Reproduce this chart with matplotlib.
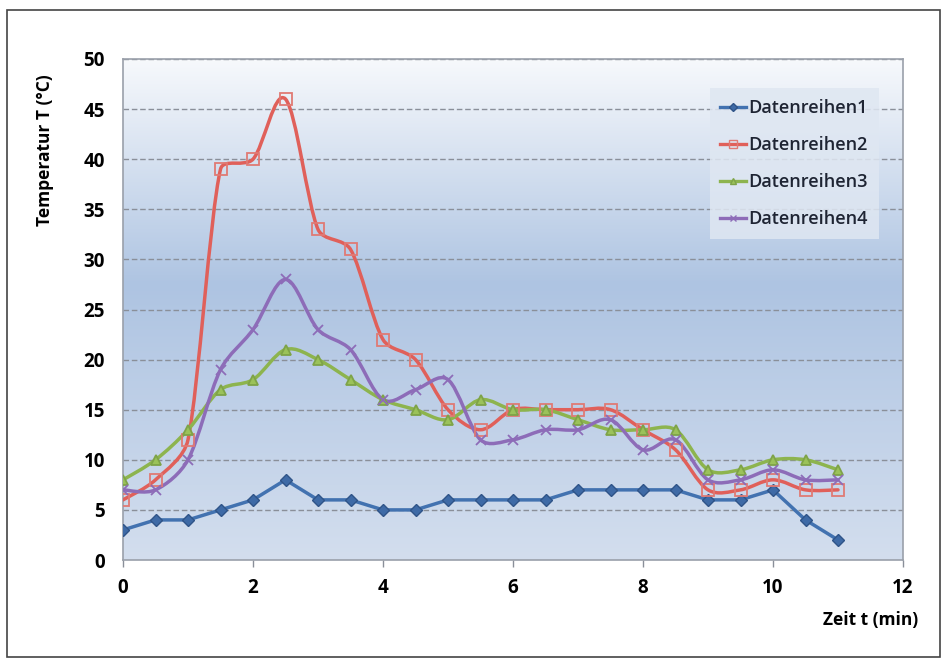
"""Temperaturverlauf (Datenreihen1-4), Excel-style smoothed line chart."""
import numpy as np
import matplotlib
matplotlib.use("Agg")
import matplotlib.pyplot as plt  # noqa: E402
from matplotlib.path import Path  # noqa: E402
from matplotlib.patches import PathPatch, Rectangle  # noqa: E402
from matplotlib.colors import LinearSegmentedColormap  # noqa: E402
from matplotlib.lines import Line2D  # noqa: E402

# ---- data ----
zeit = [0, 0.5, 1, 1.5, 2, 2.5, 3, 3.5, 4, 4.5, 5, 5.5, 6, 6.5, 7, 7.5, 8, 8.5,
        9, 9.5, 10, 10.5, 11]
reihe1 = [3, 4, 4, 5, 6, 8, 6, 6, 5, 5, 6, 6, 6, 6, 7, 7, 7, 7, 6, 6, 7, 4, 2]
reihe2 = [6, 8, 12, 39, 40, 46, 33, 31, 22, 20, 15, 13, 15, 15, 15, 15, 13, 11,
          7, 7, 8, 7, 7]
reihe3 = [8, 10, 13, 17, 18, 21, 20, 18, 16, 15, 14, 16, 15, 15, 14, 13, 13, 13,
          9, 9, 10, 10, 9]
reihe4 = [7, 7, 10, 19, 23, 28, 23, 21, 16, 17, 18, 12, 12, 13, 13, 14, 11, 12,
          8, 8, 9, 8, 8]

names = ["Datenreihen1", "Datenreihen2", "Datenreihen3", "Datenreihen4"]
yticks = [0, 5, 10, 15, 20, 25, 30, 35, 40, 45, 50]
xticks = [0, 2, 4, 6, 8, 10, 12]

FONT = "Open Sans"
plt.rcParams["font.family"] = [FONT, "DejaVu Sans"]

# axes box in pixels (used for screen-space smoothing too)
AX_W, AX_H = 780, 501
SX, SY = AX_W / 12.0, AX_H / 50.0


def smooth_path(xs, ys, clamp=0.35):
    # Excel-like smoothed line: Catmull-Rom -> cubic Bezier, tangents clamped
    # in screen space so steep steps do not overshoot
    p = np.column_stack([xs, ys]).astype(float)
    s = np.array([SX, SY])
    n = len(p)
    verts, codes = [p[0]], [Path.MOVETO]
    for i in range(n - 1):
        p0 = p[i - 1] if i > 0 else p[i]
        p3 = p[i + 2] if i + 2 < n else p[i + 1]
        seg = np.hypot(*((p[i + 1] - p[i]) * s))
        t1 = (p[i + 1] - p0) / 6.0
        t2 = (p3 - p[i]) / 6.0
        for t in (t1, t2):
            ln = np.hypot(*(t * s))
            if ln > clamp * seg:
                t *= clamp * seg / ln
        verts += [p[i] + t1, p[i + 1] - t2, p[i + 1]]
        codes += [Path.CURVE4] * 3
    return Path(verts, codes)


fig = plt.figure(figsize=(9.43, 6.59), dpi=100)
ax = fig.add_axes([123 / 943, 1 - 560 / 659, AX_W / 943, AX_H / 659])

# gradient plot-area background
cmap = LinearSegmentedColormap.from_list(
    "bg", [(0.0, "#f7f9fc"), (0.45, "#aec4e2"), (1.0, "#d3deee")])
grad = np.linspace(0, 1, 256).reshape(-1, 1)
ax.imshow(grad, extent=(0, 1, 0, 1), transform=ax.transAxes, cmap=cmap,
          aspect="auto", zorder=0, interpolation="bicubic")

for y in yticks[1:]:
    ax.axhline(y, color="#8a8f99", lw=1.0, ls=(0, (4, 2)), zorder=1)

styles = [
    dict(color="#4272b0", marker="D", ms=6, mfc="#3e6aa6", mec="#2f5488", smooth=False),
    dict(color="#e0605a", marker="s", ms=8, mfc="none", mec="#e07a74", smooth=True),
    dict(color="#8db44e", marker="^", ms=7, mfc="#9bc25a", mec="#7ea348", smooth=True),
    dict(color="#8d6cb8", marker="x", ms=7, mfc="none", mec="#8d6cb8", smooth=True),
]
handles = []
for ys, name, st in zip([reihe1, reihe2, reihe3, reihe4], names, styles):
    if st["smooth"]:
        ax.add_patch(PathPatch(smooth_path(zeit, ys), fc="none", ec=st["color"],
                               lw=2.5, zorder=3, capstyle="round", joinstyle="round"))
        ax.plot(zeit, ys, ls="none", marker=st["marker"], ms=st["ms"],
                mfc=st["mfc"], mec=st["mec"], mew=1.3, zorder=4)
    else:
        ax.plot(zeit, ys, "-", color=st["color"], lw=2.5, marker=st["marker"],
                ms=st["ms"], mfc=st["mfc"], mec=st["mec"], mew=1.0, zorder=4)
    handles.append(Line2D([], [], color=st["color"], lw=2.4, marker=st["marker"],
                          ms=st["ms"] - 2, mfc=st["mfc"], mec=st["mec"], label=name))

ax.set_xlim(0, 12)
ax.set_ylim(0, 50)
ax.set_xticks(xticks)
ax.set_yticks(yticks)
ax.tick_params(axis="x", length=5, width=1, color="#8a8f99", pad=8,
               labelsize=13.5)
ax.tick_params(axis="y", length=0, pad=13, labelsize=13.5)
for lab in ax.get_xticklabels() + ax.get_yticklabels():
    lab.set_fontweight("bold")
for s in ax.spines.values():
    s.set_color("#9aa0aa")
    s.set_linewidth(1.2)

leg = ax.legend(handles=handles, loc="upper left", bbox_to_anchor=(0.745, 0.952),
                frameon=True, fontsize=13, handlelength=1.4, handletextpad=0.15,
                labelspacing=1.05, borderpad=0.6, borderaxespad=0.3,
                fancybox=False)
leg.get_frame().set_facecolor("#dfe7f2")
leg.get_frame().set_edgecolor("none")
leg.get_frame().set_alpha(0.85)
for t in leg.get_texts():
    t.set_fontweight("semibold")
    t.set_color("#1e2433")

fig.text(45 / 943, 1 - 150 / 659, "Temperatur T (°C)", rotation=90,
         ha="center", va="center", fontsize=12.5, fontweight="bold")
fig.text(918 / 943, 1 - 620 / 659, "Zeit t (min)", ha="right", va="center",
         fontsize=12.5, fontweight="bold")

# outer frame of the chart
fig.patches.append(Rectangle((7 / 943, 2 / 659), 933 / 943, 647 / 659,
                             transform=fig.transFigure, fill=False,
                             ec="#444444", lw=1.2))

fig.savefig("out.png", dpi=100)
